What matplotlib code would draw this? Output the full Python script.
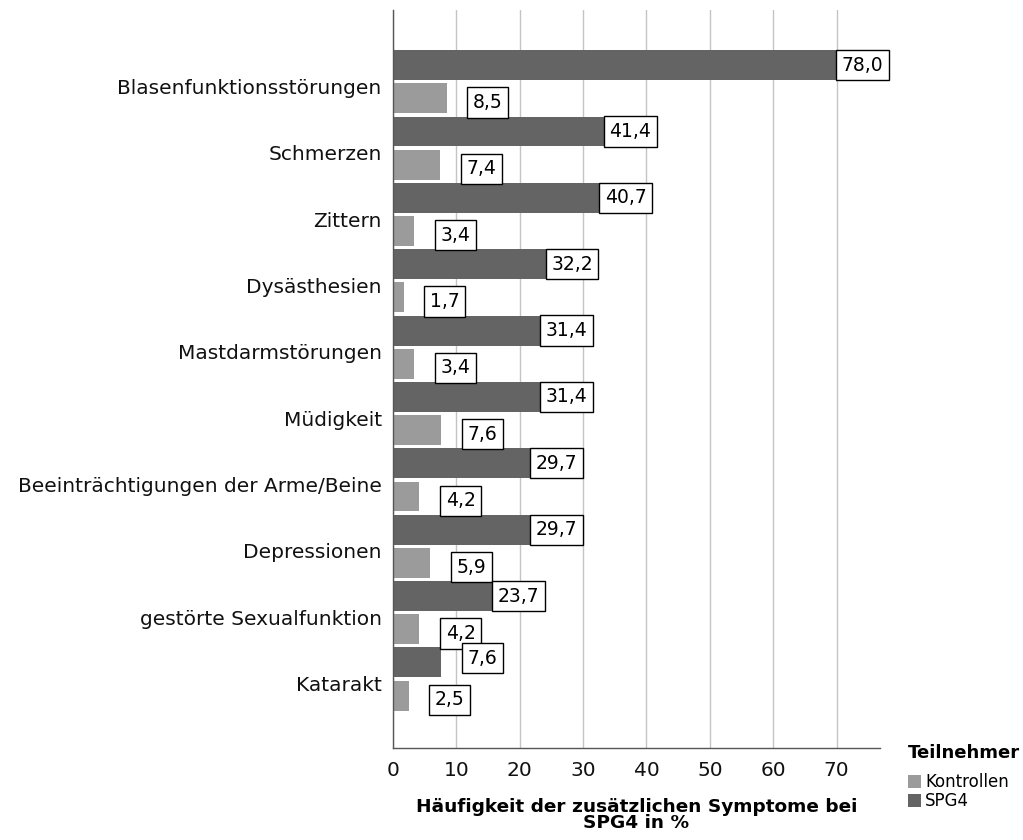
import numpy as np
import matplotlib
matplotlib.use("Agg")
from matplotlib import pyplot as plt
from matplotlib.patches import Patch

# Werte (Prozent)
categories = ['Blasenfunktionsstörungen', 'Schmerzen', 'Zittern', 'Dysästhesien',
              'Mastdarmstörungen', 'Müdigkeit', 'Beeinträchtigungen der Arme/Beine',
              'Depressionen', 'gestörte Sexualfunktion', 'Katarakt']
spg4 = [78.0, 41.4, 40.7, 32.2, 31.4, 31.4, 29.7, 29.7, 23.7, 7.6]
kontrollen = [8.5, 7.4, 3.4, 1.7, 3.4, 7.6, 4.2, 5.9, 4.2, 2.5]

DARK = '#646464'
LIGHT = '#9b9b9b'

plt.rcParams['font.family'] = ['DejaVu Sans']

fig = plt.figure(figsize=(10.23, 8.4), dpi=100)
ax = fig.add_axes([0.384, 0.1095, 0.476, 0.8785])

y = np.arange(len(categories))
h = 0.45
off = 0.25
ax.barh(y - off, spg4, height=h, color=DARK, zorder=2, label='SPG4')
ax.barh(y + off, kontrollen, height=h, color=LIGHT, zorder=2, label='Kontrollen')

box = dict(boxstyle='square,pad=0.3', facecolor='white', edgecolor='black', linewidth=1)


def label(val, ypos, dy):
    txt = f'{val:.1f}'.replace('.', ',')
    if val > 12:
        ax.annotate(txt, (val, ypos), xytext=(-3, 0), textcoords='offset points',
                    ha='right', va='center', fontsize=13.5, bbox=box,
                    zorder=4, annotation_clip=False)
    else:
        ax.annotate(txt, (val, ypos), xytext=(19, dy), textcoords='offset points',
                    ha='left', va='center', fontsize=13.5, bbox=box,
                    zorder=4, annotation_clip=False)


for i in range(len(categories)):
    label(spg4[i], y[i] - off, 3)
    label(kontrollen[i], y[i] + off, -3)

ax.set_xlim(0, 76.8)
ax.set_ylim(10.04, -1.08)
ax.set_xticks(range(0, 80, 10))
ax.set_yticks(y + 0.07)
ax.set_yticklabels(categories)
ax.tick_params(axis='both', length=0, labelsize=14.5, colors='#111111')
ax.tick_params(axis='y', pad=8)
ax.tick_params(axis='x', pad=9)
ax.grid(axis='x', color='#c4c4c4', linewidth=1, zorder=0)
ax.set_axisbelow(True)
for s in ['top', 'right']:
    ax.spines[s].set_visible(False)
for s in ['left', 'bottom']:
    ax.spines[s].set_color('#555555')
    ax.spines[s].set_linewidth(1)

ax.set_xlabel('Häufigkeit der zusätzlichen Symptome bei\nSPG4 in %',
              fontsize=13.3, fontweight='bold', labelpad=13, linespacing=0.9)

handles = [Patch(facecolor=LIGHT, edgecolor='none', label='Kontrollen'),
           Patch(facecolor=DARK, edgecolor='none', label='SPG4')]
leg = fig.legend(handles=handles, title='Teilnehmer', loc='upper left',
                 bbox_to_anchor=(0.876, 0.128), frameon=False, fontsize=12,
                 title_fontproperties={'weight': 'bold', 'size': 13},
                 handlelength=0.8, handleheight=0.8, handletextpad=0.25,
                 labelspacing=0.05, borderpad=0.2)
leg._legend_box.align = 'left'
leg._legend_box.sep = 8

fig.savefig('out.png', dpi=100)
